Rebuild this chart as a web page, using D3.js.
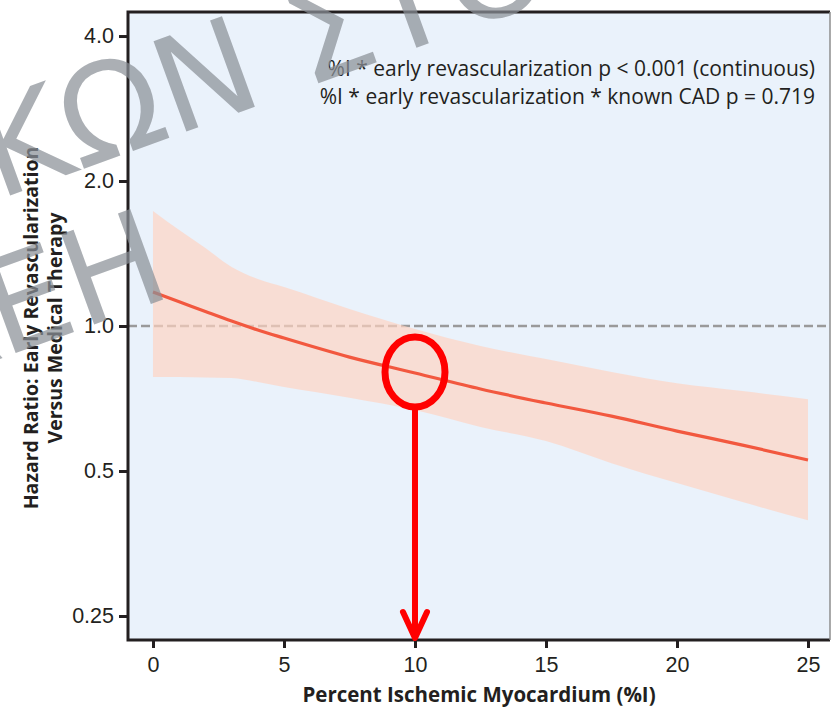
<!DOCTYPE html>
<html lang="en">
<head>
<meta charset="UTF-8">
<title>Hazard Ratio by Percent Ischemic Myocardium</title>
<script src="https://d3js.org/d3.v7.min.js"></script>
<style>
    body { margin: 0; background: #ffffff; }
    svg { display: block; font-family: "Open Sans", "Noto Sans", sans-serif; }
    .tick text { font-size: 21.5px; fill: #231f20; }
</style>
</head>
<body>
<svg width="831" height="709"></svg>
<script>
    // values
    const pctIschemic = [0, 1, 2, 3, 4, 5, 7.5, 10, 12.5, 15, 17.5, 20, 22.5, 25];
    const hrEstimate = [1.176, 1.123, 1.072, 1.024, 0.981, 0.944, 0.862, 0.799, 0.740, 0.692, 0.650, 0.605, 0.566, 0.527];
    const hrUpper = [1.733, 1.582, 1.452, 1.326, 1.252, 1.205, 1.085, 0.986, 0.909, 0.854, 0.803, 0.761, 0.733, 0.705];
    const hrLower = [0.784, 0.784, 0.782, 0.780, 0.765, 0.747, 0.710, 0.669, 0.617, 0.577, 0.519, 0.472, 0.431, 0.395];
    const xTicks = [0, 5, 10, 15, 20, 25];
    const yTicks = [0.25, 0.5, 1.0, 2.0, 4.0];
    const yTickLabels = ["0.25", "0.5", "1.0", "2.0", "4.0"];
    const noteLines = [
        "%I * early revascularization p < 0.001 (continuous)",
        "%I * early revascularization * known CAD p = 0.719"
    ];
    const markedPct = 10;

    let svg = d3.select('svg');
    let plot = {left: 128, right: 830, top: 12, bottom: 640};

    let xScale = d3.scaleLinear().domain([-0.954, 25.84]).range([plot.left, plot.right]);
    let yScale = d3.scaleLog().base(2).domain([0.2229, 4.487]).range([plot.bottom, plot.top]);

    let rows = pctIschemic.map(function (p, i) {
        return {p: p, est: hrEstimate[i], lo: hrLower[i], hi: hrUpper[i]};
    });

    // panel background
    svg.append('rect')
        .attr('x', plot.left).attr('y', plot.top)
        .attr('width', plot.right - plot.left).attr('height', plot.bottom - plot.top)
        .attr('fill', '#eaf2fb');

    // reference line at HR = 1
    svg.append('line')
        .attr('x1', plot.left).attr('x2', plot.right)
        .attr('y1', yScale(1)).attr('y2', yScale(1))
        .attr('stroke', '#9a9a9a').attr('stroke-width', 2.5)
        .attr('stroke-dasharray', '9,4');

    // confidence band
    let band = d3.area()
        .x(function (d) { return xScale(d.p); })
        .y0(function (d) { return yScale(d.lo); })
        .y1(function (d) { return yScale(d.hi); })
        .curve(d3.curveMonotoneX);
    svg.append('path').datum(rows)
        .attr('d', band)
        .attr('fill', '#ffd3c1').attr('fill-opacity', 0.68);

    // estimate line
    let estLine = d3.line()
        .x(function (d) { return xScale(d.p); })
        .y(function (d) { return yScale(d.est); })
        .curve(d3.curveMonotoneX);
    svg.append('path').datum(rows)
        .attr('d', estLine)
        .attr('fill', 'none').attr('stroke', '#f2583f').attr('stroke-width', 3.2);

    // axes
    let xAxis = svg.append('g')
        .attr('transform', 'translate(0,' + plot.bottom + ')')
        .call(d3.axisBottom(xScale).tickValues(xTicks).tickSize(8).tickPadding(5).tickFormat(d3.format('d')));
    let yAxis = svg.append('g')
        .attr('transform', 'translate(' + plot.left + ',0)')
        .call(d3.axisLeft(yScale).tickValues(yTicks).tickSize(9).tickPadding(5)
            .tickFormat(function (d, i) { return yTickLabels[i]; }));
    [xAxis, yAxis].forEach(function (a) {
        a.select('.domain').remove();
        a.selectAll('.tick line').attr('stroke', '#231f20').attr('stroke-width', 3);
    });
    xAxis.selectAll('.tick text').attr('dy', '0.9em');

    // frame
    svg.append('path')
        .attr('d', 'M' + plot.right + ',' + plot.top + 'H' + plot.left + 'V' + plot.bottom + 'H' + plot.right)
        .attr('fill', 'none').attr('stroke', '#231f20').attr('stroke-width', 3);
    svg.append('line')
        .attr('x1', plot.right).attr('x2', plot.right)
        .attr('y1', plot.top).attr('y2', plot.bottom)
        .attr('stroke', '#8e8e8e').attr('stroke-width', 1.5);

    // p-value notes
    svg.append('g').selectAll('text').data(noteLines).join('text')
        .attr('x', 815).attr('y', function (d, i) { return 76 + i * 28; })
        .attr('text-anchor', 'end')
        .attr('font-size', 21).attr('fill', '#231f20')
        .text(function (d) { return d; });

    // axis titles
    svg.append('text')
        .attr('x', 479).attr('y', 702)
        .attr('text-anchor', 'middle').attr('font-size', 20.5).attr('font-weight', 'bold')
        .attr('fill', '#231f20')
        .text('Percent Ischemic Myocardium (%I)');
    let yTitle = svg.append('g')
        .attr('transform', 'translate(0,' + ((plot.top + plot.bottom) / 2 + 2) + ') rotate(-90)');
    yTitle.append('text').attr('x', 0).attr('y', 38)
        .attr('text-anchor', 'middle').attr('font-size', 19.5).attr('font-weight', 'bold')
        .attr('fill', '#231f20')
        .text('Hazard Ratio: Early Revascularization');
    yTitle.append('text').attr('x', 0).attr('y', 62)
        .attr('text-anchor', 'middle').attr('font-size', 19.5).attr('font-weight', 'bold')
        .attr('fill', '#231f20')
        .text('Versus Medical Therapy');

    // red annotation: circle on the curve at 10% and arrow to the axis
    let mx = xScale(markedPct);
    let my = yScale(hrEstimate[pctIschemic.indexOf(markedPct)]);
    let ann = svg.append('g').attr('stroke', '#ff0000').attr('fill', 'none')
        .attr('stroke-linecap', 'round').attr('stroke-linejoin', 'round');
    ann.append('ellipse').attr('cx', mx).attr('cy', my - 1)
        .attr('rx', 30).attr('ry', 35).attr('stroke-width', 7);
    ann.append('line').attr('x1', mx).attr('x2', mx)
        .attr('y1', my + 36).attr('y2', plot.bottom - 4).attr('stroke-width', 6);
    ann.append('path')
        .attr('d', 'M' + (mx - 12) + ',' + (plot.bottom - 28) + 'L' + mx + ',' + (plot.bottom - 2) +
            'L' + (mx + 12) + ',' + (plot.bottom - 28))
        .attr('stroke-width', 6);

    // watermark
    let wm = svg.append('g')
        .attr('transform', 'translate(-2,200) rotate(-20)')
        .attr('font-family', '"DejaVu Sans", sans-serif').attr('font-size', 132)
        .attr('fill', '#8b9097').attr('fill-opacity', 0.72);
    wm.append('text').attr('x', 0).attr('y', 0).text('ΚΩΝ ΣΤΟ');
    wm.append('text').attr('x', 134).attr('y', 150).attr('text-anchor', 'end').text('ΛΕΗ');
</script>
</body>
</html>
